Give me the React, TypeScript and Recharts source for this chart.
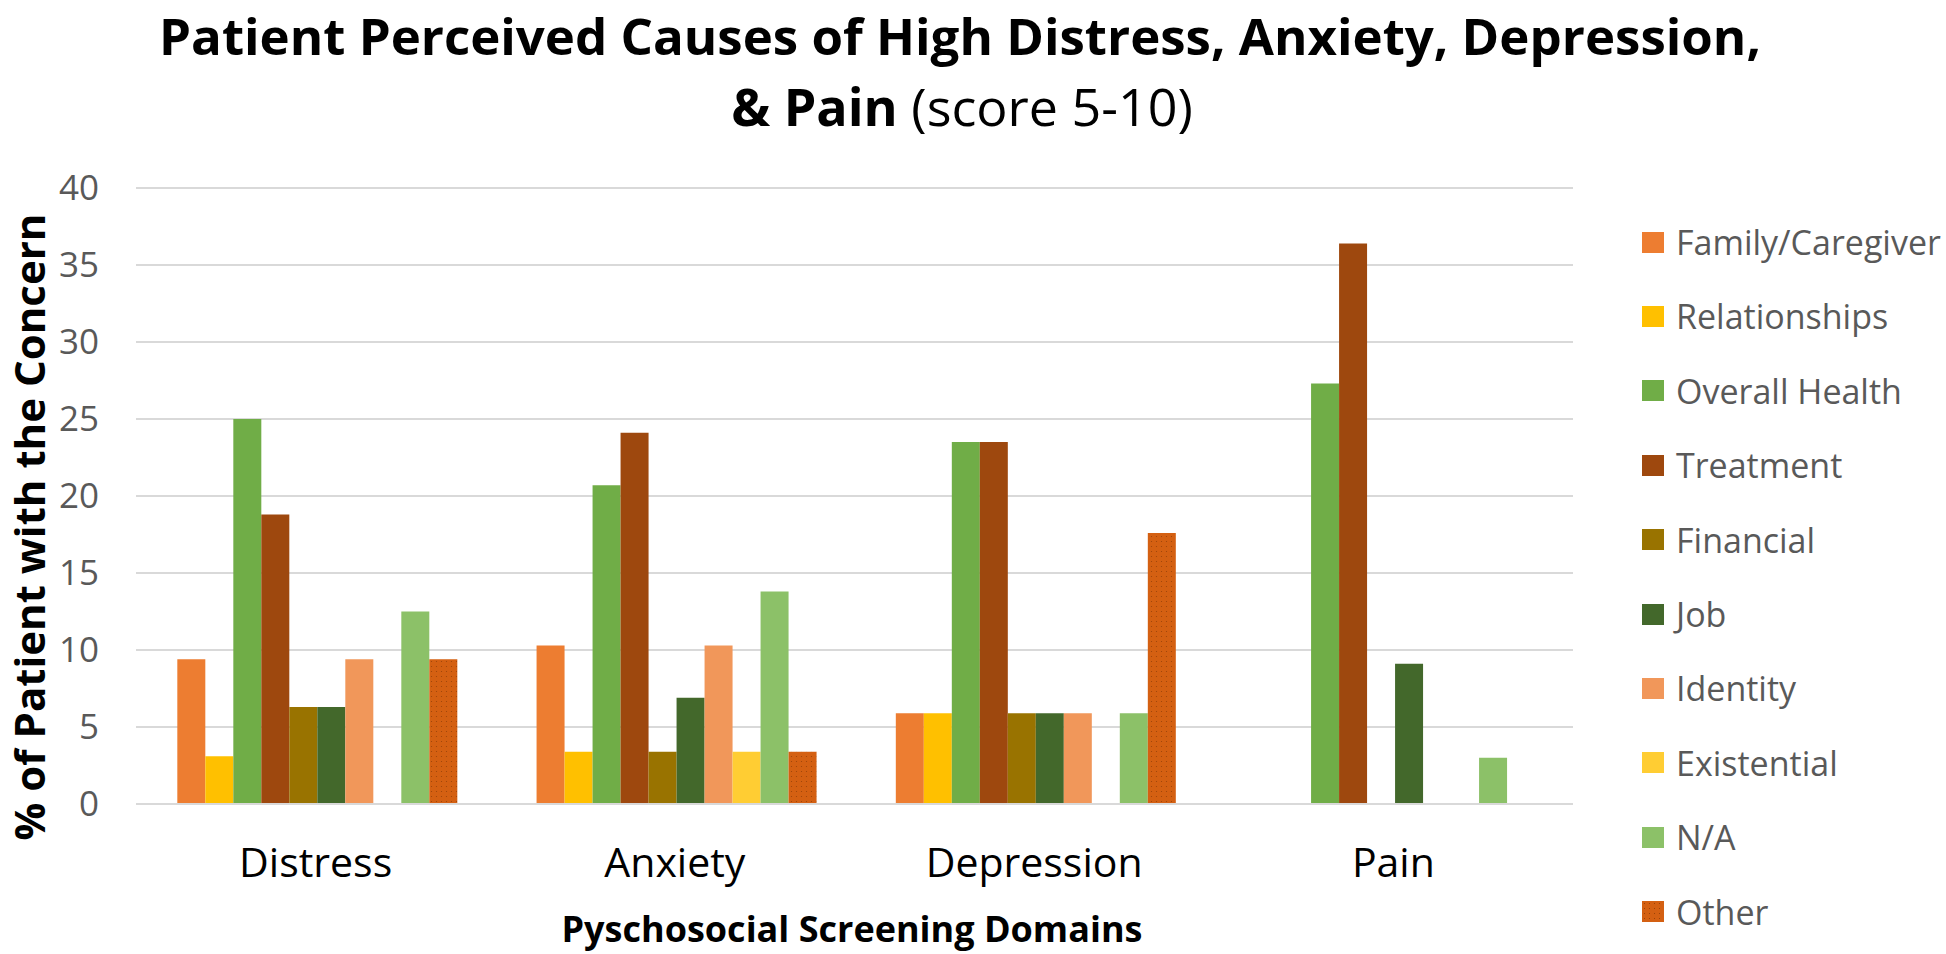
import { BarChart, Bar, XAxis, YAxis, CartesianGrid } from "recharts";

const categories = ["Distress", "Anxiety", "Depression", "Pain"];

const familyCaregiver = [9.4, 10.3, 5.9, 0];
const relationships = [3.1, 3.4, 5.9, 0];
const overallHealth = [25, 20.7, 23.5, 27.3];
const treatment = [18.8, 24.1, 23.5, 36.4];
const financial = [6.3, 3.4, 5.9, 0];
const job = [6.3, 6.9, 5.9, 9.1];
const identity = [9.4, 10.3, 5.9, 0];
const existential = [0, 3.4, 0, 0];
const notApplicable = [12.5, 13.8, 5.9, 3.0];
const other = [9.4, 3.4, 17.6, 0];

const yTicks = [0, 5, 10, 15, 20, 25, 30, 35, 40];

const series = [
  { key: "family", name: "Family/Caregiver", values: familyCaregiver, color: "#ED7D31" },
  { key: "relationships", name: "Relationships", values: relationships, color: "#FFC000" },
  { key: "overall", name: "Overall Health", values: overallHealth, color: "#70AD47" },
  { key: "treatment", name: "Treatment", values: treatment, color: "#9E480E" },
  { key: "financial", name: "Financial", values: financial, color: "#997300" },
  { key: "job", name: "Job", values: job, color: "#43682B" },
  { key: "identity", name: "Identity", values: identity, color: "#F1975A" },
  { key: "existential", name: "Existential", values: existential, color: "#FFCD33" },
  { key: "na", name: "N/A", values: notApplicable, color: "#8CC168" },
  { key: "other", name: "Other", values: other, color: "#D46012" },
];

const data = categories.map((cat, i) => {
  const row: Record<string, string | number> = { domain: cat };
  series.forEach((s) => {
    row[s.key] = s.values[i];
  });
  return row;
});

const FONT = "'Open Sans', sans-serif";

export default function App() {
  return (
    <div
      style={{
        position: "absolute",
        left: 0,
        top: 0,
        width: 1946,
        height: 954,
        background: "#fff",
        fontFamily: FONT,
      }}
    >
      <BarChart
        width={1946}
        height={954}
        data={data}
        margin={{ top: 188, right: 373, bottom: 90, left: 0 }}
        barCategoryGap="11.5%"
        barGap={0}
      >
        <defs>
          <pattern id="otherDots" width="5" height="5" patternUnits="userSpaceOnUse">
            <rect width="5" height="5" fill="#D46012" />
            <circle cx="1.5" cy="1.5" r="0.6" fill="#9A4208" />
          </pattern>
        </defs>
        <CartesianGrid vertical={false} stroke="#D9D9D9" strokeWidth={2} />
        <XAxis
          dataKey="domain"
          height={60}
          axisLine={{ stroke: "#D9D9D9", strokeWidth: 2 }}
          tickLine={false}
          tickSize={0}
          tickMargin={44}
          tick={{ fill: "#000", fontSize: 41, fontFamily: FONT }}
        />
        <YAxis
          width={136}
          domain={[0, 40]}
          ticks={yTicks}
          axisLine={false}
          tickLine={false}
          tickSize={0}
          tickMargin={37}
          tick={{ fill: "#595959", fontSize: 35, fontFamily: FONT }}
        />
        {series.map((s) => (
          <Bar
            key={s.key}
            dataKey={s.key}
            name={s.name}
            fill={s.key === "other" ? "url(#otherDots)" : s.color}
            isAnimationActive={false}
          />
        ))}
      </BarChart>

      <svg
        width={1946}
        height={954}
        style={{ position: "absolute", left: 0, top: 0, pointerEvents: "none" }}
      >
        <text x={960} y={55} textAnchor="middle" fontFamily={FONT} fontSize={51} fontWeight={700} fill="#000">
          Patient Perceived Causes of High Distress, Anxiety, Depression,
        </text>
        <text x={962} y={126} textAnchor="middle" fontFamily={FONT} fontSize={52} fill="#000">
          <tspan fontWeight={700}>&amp; Pain</tspan>
          <tspan> (score 5-10)</tspan>
        </text>
        <text
          x={852}
          y={942}
          textAnchor="middle"
          fontFamily={FONT}
          fontSize={36}
          fontWeight={700}
          fill="#000"
        >
          Pyschosocial Screening Domains
        </text>
        <text
          transform="translate(45, 527) rotate(-90)"
          textAnchor="middle"
          fontFamily={FONT}
          fontSize={42}
          fontWeight={700}
          fill="#000"
        >
          % of Patient with the Concern
        </text>
      </svg>

      {series.map((s, i) => (
        <div
          key={s.key}
          style={{
            position: "absolute",
            left: 1642,
            top: 242 + i * 74.4 - 25,
            height: 50,
            display: "flex",
            alignItems: "center",
            whiteSpace: "nowrap",
          }}
        >
          <div
            style={{
              width: 22,
              height: 21,
              background: s.color,
              backgroundImage:
                s.key === "other" ? "radial-gradient(#9A4208 0.6px, transparent 0.9px)" : undefined,
              backgroundSize: "5px 5px",
              marginRight: 12,
            }}
          />
          <span style={{ fontSize: 34, color: "#595959", fontFamily: FONT, lineHeight: "50px" }}>
            {s.name}
          </span>
        </div>
      ))}
    </div>
  );
}
